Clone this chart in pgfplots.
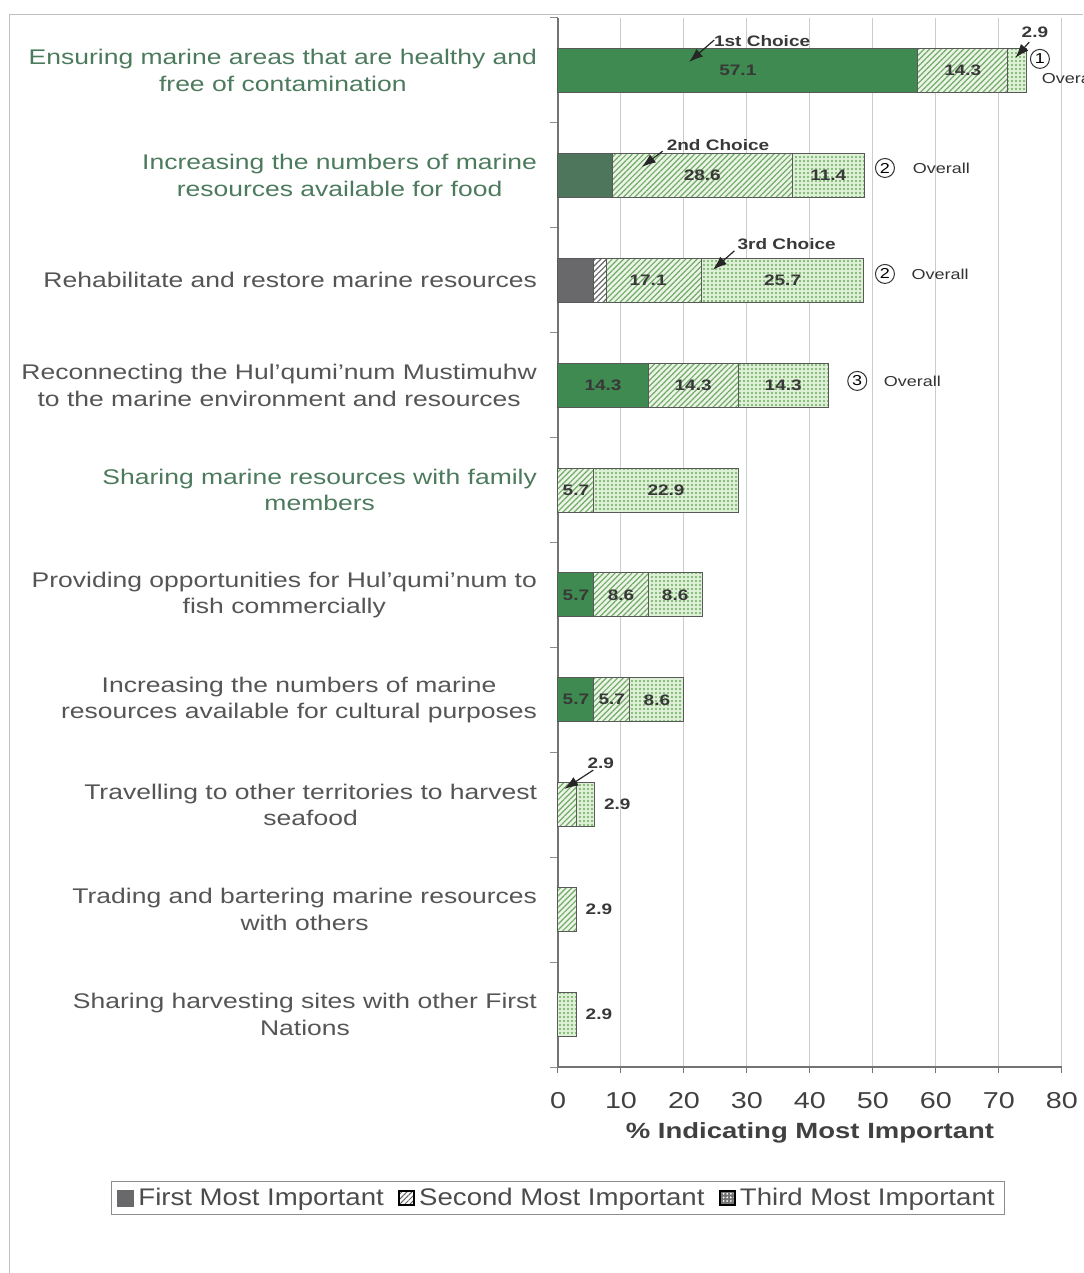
\documentclass[border=0pt]{standalone}
\usepackage{fontspec}
\setmainfont{Liberation Sans}[FakeStretch=1.25]
\newfontfamily\legfont{Liberation Sans}[FakeStretch=1.15]
\usepackage{pgfplots}
\usepackage{pgfplotstable}
\pgfplotsset{compat=1.18}
\usetikzlibrary{patterns.meta,arrows.meta}

\definecolor{fgreen}{RGB}{62,138,80}
\definecolor{fdark}{RGB}{78,118,92}
\definecolor{fgray}{RGB}{105,105,108}
\definecolor{hatchg}{RGB}{115,170,105}
\definecolor{hatchbg}{RGB}{234,245,230}
\definecolor{dotg}{RGB}{105,172,95}
\definecolor{dotbg}{RGB}{222,241,214}
\definecolor{lblgreen}{RGB}{76,122,92}
\definecolor{lblgray}{RGB}{85,85,85}

% p = position (9 = top row)
\pgfplotstableread{
p fg fd fy wh sc th
9 57.1 0 0 0 14.3 2.9
8 0 8.6 0 0 28.6 11.4
7 0 0 5.7 2.0 15.1 25.7
6 14.3 0 0 0 14.3 14.3
5 0 0 0 0 5.7 22.9
4 5.7 0 0 0 8.6 8.6
3 5.7 0 0 0 5.7 8.6
2 0 0 0 0 2.9 2.9
1 0 0 0 0 2.9 0
0 0 0 0 0 0 2.9
}\data

\newcommand{\gl}[2]{\textcolor{lblgreen}{#1}\\\textcolor{lblgreen}{#2}}
\newcommand{\gy}[2]{\textcolor{lblgray}{#1}\\\textcolor{lblgray}{#2}}

\tikzset{
  secpat/.style={fill=hatchbg, postaction={pattern={Lines[angle=45,distance=2pt,line width=0.6pt]}, pattern color=hatchg}},
  thipat/.style={fill=dotbg, postaction={pattern={Dots[distance=2pt,radius=0.6pt]}, pattern color=dotg}},
  vlab/.style={font=\bfseries\fontsize{7.6}{9}\selectfont, text=black!78},
  olab/.style={font=\fontsize{7.2}{8}\selectfont, text=black!80, anchor=west},
  cnum/.style={circle, draw=black!80, line width=0.5pt, minimum size=9.5pt, inner sep=0pt, font=\fontsize{7.2}{8}\selectfont},
  arr/.style={-{Latex[length=7pt,width=5pt]}, line width=0.6pt, black!85},
}

\newcommand{\annot}{%
% value labels
\node[vlab] at (axis cs:28.55,9) {57.1};
\node[vlab] at (axis cs:64.25,9) {14.3};
\node[vlab] at (axis cs:22.9,8) {28.6};
\node[vlab] at (axis cs:42.9,8) {11.4};
\node[vlab] at (axis cs:14.3,7) {17.1};
\node[vlab] at (axis cs:35.65,7) {25.7};
\node[vlab] at (axis cs:7.15,6) {14.3};
\node[vlab] at (axis cs:21.45,6) {14.3};
\node[vlab] at (axis cs:35.75,6) {14.3};
\node[vlab] at (axis cs:2.85,5) {5.7};
\node[vlab] at (axis cs:17.15,5) {22.9};
\node[vlab] at (axis cs:2.85,4) {5.7};
\node[vlab] at (axis cs:10,4) {8.6};
\node[vlab] at (axis cs:18.6,4) {8.6};
\node[vlab] at (axis cs:2.85,3) {5.7};
\node[vlab] at (axis cs:8.55,3) {5.7};
\node[vlab] at (axis cs:15.7,3) {8.6};
\node[vlab] at (axis cs:6.8,2.4) {2.9};
\node[vlab] at (axis cs:9.4,2.0) {2.9};
\node[vlab] at (axis cs:6.5,1) {2.9};
\node[vlab] at (axis cs:6.5,0) {2.9};
\node[vlab] at (axis cs:75.7,9.36) {2.9};
% choice annotations
\node[vlab] at (axis cs:32.4,9.28) {1st Choice};
\draw[arr] (axis cs:24.8,9.29) -- (axis cs:20.8,9.08);
\node[vlab] at (axis cs:25.4,8.29) {2nd Choice};
\draw[arr] (axis cs:16.6,8.23) -- (axis cs:13.3,8.08);
\node[vlab] at (axis cs:36.3,7.34) {3rd Choice};
\draw[arr] (axis cs:28.0,7.28) -- (axis cs:24.6,7.10);
\draw[arr] (axis cs:74.8,9.27) -- (axis cs:72.6,9.12);
\draw[arr] (axis cs:5.6,2.33) -- (axis cs:1.0,2.15);
% overall ranks
\node[cnum] at (axis cs:76.5,9.11) {1};
\node[olab] at (axis cs:75.7,8.92) {Overall};
\node[cnum] at (axis cs:51.9,8.07) {2};
\node[olab] at (axis cs:55.2,8.07) {Overall};
\node[cnum] at (axis cs:51.9,7.06) {2};
\node[olab] at (axis cs:55.0,7.06) {Overall};
\node[cnum] at (axis cs:47.5,6.04) {3};
\node[olab] at (axis cs:50.6,6.04) {Overall};
}

\begin{document}
\begin{tikzpicture}
\begin{axis}[
  at={(0,0)}, anchor=south west,
  scale only axis, width=252pt, height=524.5pt,
  xbar stacked, bar width=22pt,
  xmin=0, xmax=80, ymin=-0.5, ymax=9.5,
  xtick={0,10,...,80},
  ytick={0,...,9},
  minor ytick={-0.5,0.5,...,9.5},
  yticklabels={
    {\gy{Sharing harvesting sites with other First}{Nations}},
    {\gy{Trading and bartering marine resources}{with others}},
    {\gy{Travelling to other territories to harvest}{seafood}},
    {\gy{Increasing the numbers of marine}{resources available for cultural purposes}},
    {\gy{Providing opportunities for Hul'qumi'num to}{fish commercially}},
    {\gl{Sharing marine resources with family}{members}},
    {\gy{Reconnecting the Hul'qumi'num Mustimuhw}{to the marine environment and resources}},
    {\textcolor{lblgray}{Rehabilitate and restore marine resources}},
    {\gl{Increasing the numbers of marine}{resources available for food}},
    {\gl{Ensuring marine areas that are healthy and}{free of contamination}}
  },
  yticklabel style={align=center, font=\fontsize{10.6}{13.3}\selectfont, xshift=-4pt},
  xticklabel style={font=\fontsize{11.5}{13}\selectfont, text=black!75, yshift=-6pt},
  /pgf/number format/assume math mode=true,
  axis x line*=bottom, axis y line*=left,
  axis line style={black!55, line width=0.6pt},
  tick align=outside,
  major y tick style={draw=none},
  minor y tick style={black!45, line width=0.5pt},
  minor tick length=4pt,
  major x tick style={black!55, line width=0.5pt},
  major tick length=3pt,
  xmajorgrids, grid style={black!20, line width=0.5pt},
  xlabel={\bfseries \% Indicating Most Important},
  every axis x label/.style={at={(axis description cs:0.5,0)}, anchor=center, yshift=-33pt, font=\fontsize{11}{13}\selectfont, text=black!75},
  legend style={at={(axis description cs:0,-0.125)}, anchor=center, legend columns=3,
    draw=black!45, line width=0.5pt, font=\legfont\fontsize{12}{14}\selectfont, text=black!70,
    inner xsep=3pt, inner ysep=1pt,
    /tikz/every even column/.style={column sep=5pt}},
  clip=false,
  after end axis/.code={\annot},
]
\addplot[forget plot, fill=fgreen, draw=black!65, line width=0.5pt] table[x=fg, y=p] {\data};
\addplot[forget plot, fill=fdark, draw=black!65, line width=0.5pt] table[x=fd, y=p] {\data};
\addplot[forget plot, fill=fgray, draw=black!65, line width=0.5pt] table[x=fy, y=p] {\data};
\addplot[forget plot, fill=white, draw=black!65, line width=0.5pt, postaction={pattern={Lines[angle=45,distance=2pt,line width=0.6pt]}, pattern color=black!60}] table[x=wh, y=p] {\data};
\addplot[forget plot, secpat, draw=black!65, line width=0.5pt] table[x=sc, y=p] {\data};
\addplot[forget plot, thipat, draw=black!65, line width=0.5pt] table[x=th, y=p] {\data};

\addlegendimage{legend image code/.code={\fill[fgray] (0pt,-4pt) rectangle (8pt,4pt);}}
\addlegendentry{First Most Important}
\addlegendimage{legend image code/.code={\draw[black, line width=1.2pt, fill=white, postaction={pattern={Lines[angle=45,distance=1.8pt,line width=0.5pt]}, pattern color=black!60}] (0pt,-3.5pt) rectangle (7.5pt,3.5pt);}}
\addlegendentry{Second Most Important}
\addlegendimage{legend image code/.code={\draw[black, line width=1.2pt, fill=black!55, postaction={pattern={Dots[distance=1.8pt,radius=0.5pt]}, pattern color=white}] (0pt,-3.5pt) rectangle (7.5pt,3.5pt);}}
\addlegendentry{Third Most Important}
\end{axis}
\draw[black!25, line width=0.5pt] (-274pt,-103pt) -- (-274pt,526pt) -- (262.5pt,526pt);
\pgfresetboundingbox
\path[use as bounding box] (-279pt,-103pt) rectangle (262.5pt,533.5pt);
\end{tikzpicture}
\end{document}
